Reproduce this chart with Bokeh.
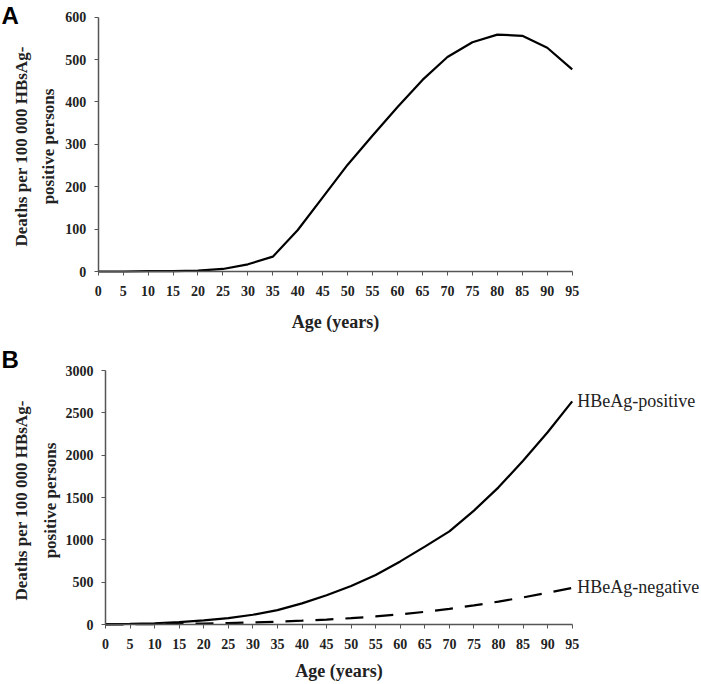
import math
from bokeh.plotting import figure
from bokeh.models import FixedTicker, Label, Range1d
from bokeh.layouts import column
from bokeh.embed import file_html
from bokeh.resources import INLINE

# ---- data ----
ages = [0, 5, 10, 15, 20, 25, 30, 35, 40, 45, 50, 55, 60, 65, 70, 75, 80, 85, 90, 95]
deaths_all = [0, 0, 1, 1, 2, 6, 17, 35, 98, 175, 252, 321, 388, 452, 506, 541, 559, 556, 528, 477]
hbeag_pos = [5, 8, 15, 28, 48, 75, 115, 170, 250, 345, 455, 585, 745, 920, 1100, 1345, 1620, 1935, 2270, 2635]
hbeag_neg = [0, 2, 5, 8, 12, 17, 24, 33, 45, 58, 75, 95, 120, 150, 185, 225, 270, 320, 375, 432]
x_ticks = list(range(0, 100, 5))
y_ticks_a = [0, 100, 200, 300, 400, 500, 600]
y_ticks_b = [0, 500, 1000, 1500, 2000, 2500, 3000]
ylabel_1 = "Deaths per 100 000 HBsAg-"
ylabel_2 = "positive persons"
xlabel = "Age (years)"
series_names = ["HBeAg-positive", "HBeAg-negative"]
panel_names = ["A", "B"]

SERIF = "Liberation Serif"
AXIS_COL = "#555555"
TXT_COL = "#222222"
W = 701


def make_panel(height, frame_left, frame_top, frame_w, frame_h, xmax, ymax, yticks,
               title_standoff):
    # the frame fills the whole canvas; axes are pinned at x=0 / y=0 with fixed_location
    xpx = frame_w / xmax
    ypx = frame_h / ymax
    x0 = -frame_left / xpx
    x1 = (W - frame_left) / xpx
    y1 = ymax + frame_top / ypx
    y0 = -(height - frame_top - frame_h) / ypx
    p = figure(width=W, height=height, output_backend="svg", toolbar_location=None,
               x_range=Range1d(x0, x1), y_range=Range1d(y0, y1), min_border=0)
    p.xaxis.fixed_location = 0
    p.yaxis.fixed_location = 0
    p.xaxis.bounds = (0, xmax)
    p.yaxis.bounds = (0, ymax)
    p.xaxis.ticker = FixedTicker(ticks=x_ticks)
    p.yaxis.ticker = FixedTicker(ticks=yticks)
    p.xgrid.visible = False
    p.ygrid.visible = False
    p.outline_line_color = None
    for ax in (p.xaxis, p.yaxis):
        ax.axis_line_color = AXIS_COL
        ax.axis_line_width = 1.5
        ax.major_tick_line_color = AXIS_COL
        ax.major_tick_line_width = 1
        ax.major_tick_in = 0
        ax.major_tick_out = 4
        ax.minor_tick_line_color = None
        ax.major_label_text_font = SERIF
        ax.major_label_text_font_style = "bold"
        ax.major_label_text_font_size = "14px"
        ax.major_label_text_color = TXT_COL
    p.xaxis.major_label_standoff = 10
    p.yaxis.major_label_standoff = 8
    p.xaxis.axis_label = xlabel
    p.xaxis.axis_label_text_font = SERIF
    p.xaxis.axis_label_text_font_style = "bold"
    p.xaxis.axis_label_text_font_size = "18px"
    p.xaxis.axis_label_text_color = TXT_COL
    p.xaxis.axis_label_standoff = title_standoff
    return p


def add_ylabels(p, sx1, sx2, sy):
    for txt, sx in ((ylabel_1, sx1), (ylabel_2, sx2)):
        p.add_layout(Label(x=sx, y=sy, x_units="screen", y_units="screen",
                           text=txt, angle=math.pi / 2, text_align="center",
                           text_baseline="middle", text_font=SERIF,
                           text_font_style="bold", text_font_size="17px",
                           text_color=TXT_COL))


def add_letter(p, txt, sy):
    p.add_layout(Label(x=1, y=sy, x_units="screen", y_units="screen", text=txt,
                       text_font="Liberation Sans", text_font_style="bold",
                       text_font_size="24px", text_baseline="top", text_align="left",
                       text_color="black"))


# ---- panel A ---- (canvas on page y 0..333)
HA = 333
pa = make_panel(HA, 97.7, 16.7, 474, 254.3, 95, 600, y_ticks_a, 13)
pa.line(ages, deaths_all, line_color="black", line_width=2.2)
add_ylabels(pa, 21, 48, HA - 146)
add_letter(pa, panel_names[0], HA - 1)

# ---- panel B ---- (canvas on page y 333..684)
HB = 351
pb = make_panel(HB, 105, 37, 466.7, 254, 95, 3000, y_ticks_b, 9)
pb.line(ages, hbeag_pos, line_color="black", line_width=2.2)
pb.line(ages, hbeag_neg, line_color="black", line_width=2.2, line_dash="18 12")
add_ylabels(pb, 21, 50, HB - 167)
add_letter(pb, panel_names[1], HB - 12)
pb.add_layout(Label(x=ages[-1], y=hbeag_pos[-1], x_offset=5, text=series_names[0],
                    text_font=SERIF, text_font_size="18px", text_baseline="middle",
                    text_color=TXT_COL))
pb.add_layout(Label(x=ages[-1], y=hbeag_neg[-1] + 10, x_offset=5, text=series_names[1],
                    text_font=SERIF, text_font_size="18px", text_baseline="middle",
                    text_color=TXT_COL))

layout = column(pa, pb, spacing=0)
open("out.html", "w").write(file_html(layout, INLINE))
